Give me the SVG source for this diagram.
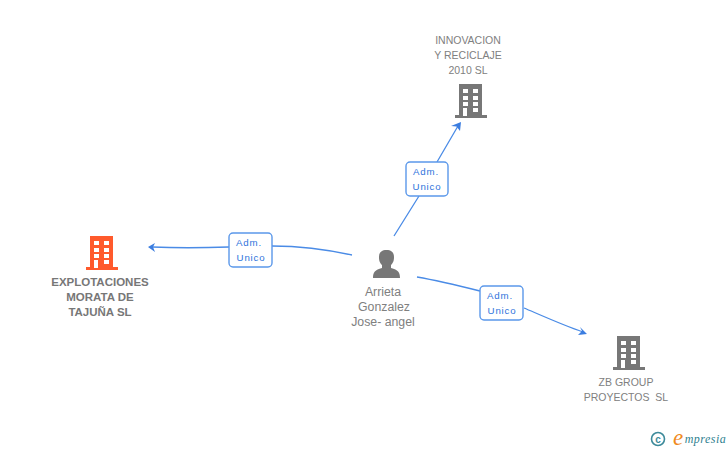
<svg xmlns="http://www.w3.org/2000/svg" width="728" height="450" viewBox="0 0 728 450">
<style>
text{font-family:"Liberation Sans",Arial,sans-serif;text-anchor:middle}
.n{font-size:10.5px;fill:#808080}
.p{font-size:12.3px;fill:#808080}
.b{font-size:11.5px;fill:#777;font-weight:bold}
.l{font-size:9.7px;fill:#2f74dc;letter-spacing:.8px}
.e{fill:none;stroke:#4a8be6;stroke-width:1.300}
.a{fill:#3b7de0}
.box{fill:#fff;stroke:#5b98ea;stroke-width:1.400}
</style>
<defs>
<g id="bld">
<path d="M-12 -17H11V14H16V17H-16V14H-12Z"/>
<g fill="#fff"><rect x="-8" y="-12" width="5" height="4"/><rect x="2" y="-12" width="5" height="4"/><rect x="-8" y="-5" width="5" height="4"/><rect x="2" y="-5" width="5" height="4"/><rect x="-8" y="1" width="5" height="4"/><rect x="2" y="1" width="5" height="4"/><rect x="-8" y="7" width="4" height="8"/><rect x="2" y="7" width="5" height="4"/></g>
</g>
</defs>
<rect width="728" height="450" fill="#fff"/>
<g id="connectors">
<path class="e" d="M352 255C320 248 290 246 272 246M229 247C200 248 175 248 152 247"/>
<path class="a" d="M148 247L155 243L153 247L155 252Z"/>
<path class="e" d="M394 236L419 196M437 162L458 126"/>
<path class="a" d="M461 122L460 131L456.500 126.500L451 126Z"/>
<path class="e" d="M417 277C440 281 460 286 480 291M524 308C545 317 565 326 583 332"/>
<path class="a" d="M587 334L578 335L582 331L580 327Z"/>
</g>
<g id="label1"><rect class="box" x="229" y="233" width="43" height="34" rx="4"/><text class="l" x="249" y="246">Adm.</text><text class="l" x="251" y="261">Unico</text></g>
<g id="label2"><rect class="box" x="406" y="162" width="42" height="34" rx="4"/><text class="l" x="426" y="175">Adm.</text><text class="l" x="427" y="190">Unico</text></g>
<g id="label3"><rect class="box" x="480" y="286" width="43" height="34" rx="4"/><text class="l" x="500" y="299">Adm.</text><text class="l" x="502" y="314">Unico</text></g>
<g id="node-explotaciones"><use href="#bld" x="102" y="253" fill="#ff5a2c"/><text class="b" x="100" y="286">EXPLOTACIONES</text><text class="b" x="100" y="301">MORATA DE</text><text class="b" x="100" y="316">TAJUÑA SL</text></g>
<g id="node-innovacion"><text class="n" x="468" y="44">INNOVACION</text><text class="n" x="468" y="59">Y RECICLAJE</text><text class="n" x="468" y="74">2010 SL</text><use href="#bld" x="471" y="101" fill="#777"/></g>
<g id="node-zb"><use href="#bld" x="629" y="353" fill="#777"/><text class="n" x="626" y="386">ZB GROUP</text><text class="n" x="626" y="401" xml:space="preserve">PROYECTOS  SL</text></g>
<g id="node-arrieta"><path fill="#777" d="M373 278C373 272 375 270 382 268V265C379 262 379 259 379 257C379 252 382 250 386.500 250C391 250 394 252 394 257C394 259 394 262 391 265V268C398 270 400 272 400 278Z"/><text class="p" x="383" y="296">Arrieta</text><text class="p" x="384" y="311">Gonzalez</text><text class="p" x="383" y="326">Jose- angel</text></g>
<g id="watermark"><circle cx="658" cy="439" r="6.500" fill="none" stroke="#3d8a9a" stroke-width="1.600"/><text x="658" y="442.500" style="font-size:10px;font-weight:bold;fill:#3d8a9a">c</text><text x="678" y="445" style="font-family:'Liberation Serif',serif;font-style:italic;font-size:23px;fill:#f08a1d">e</text><text x="705.500" y="443" style="font-family:'Liberation Serif',serif;font-style:italic;font-size:12px;fill:#2f7f8f;letter-spacing:.5px">mpresia</text></g>
</svg>
